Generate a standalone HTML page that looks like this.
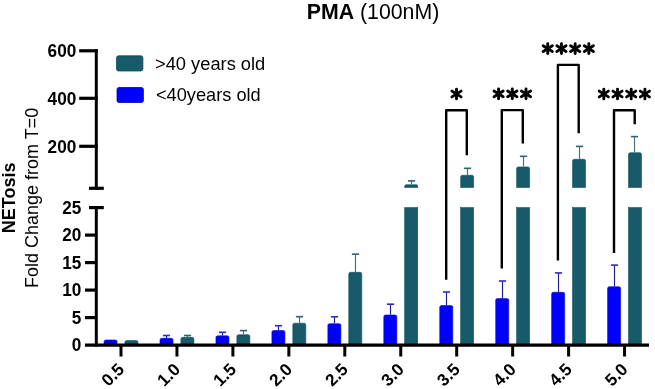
<!DOCTYPE html>
<html><head><meta charset="utf-8"><style>
html,body{margin:0;padding:0;background:#fff;}
body{width:655px;height:389px;overflow:hidden;}
svg{display:block;will-change:transform;}
text{font-family:"Liberation Sans",sans-serif;}
</style></head><body>
<svg width="655" height="389" viewBox="0 0 655 389">
<rect width="655" height="389" fill="#fff"/>
<text x="373" y="19" text-anchor="middle" font-size="21.3"><tspan font-weight="bold">PMA</tspan> (100nM)</text>
<text transform="translate(15.3,197.8) rotate(-90)" text-anchor="middle" font-size="18" font-weight="bold">NETosis</text>
<text transform="translate(38.1,197.9) rotate(-90)" text-anchor="middle" font-size="18">Fold Change from T=0</text>
<rect x="116.5" y="55.8" width="26.4" height="15.2" rx="2" fill="#175a69" stroke="#124e5c" stroke-width="0.8"/>
<rect x="117" y="87.5" width="26.4" height="15" rx="2" fill="#0000fd" stroke="#0000b0" stroke-width="0.8"/>
<text x="155" y="69.8" font-size="18.3">&gt;40 years old</text>
<text x="156" y="101.2" font-size="18.2">&lt;40years old</text>
<path d="M104.05,343.90 L104.05,341.70 Q104.05,340.00 105.75,340.00 L115.35,340.00 Q117.05,340.00 117.05,341.70 L117.05,343.90 Z" fill="#0000fd" stroke="#0000c8" stroke-width="0.6"/><path d="M124.95,343.90 L124.95,342.20 Q124.95,340.50 126.65,340.50 L136.25,340.50 Q137.95,340.50 137.95,342.20 L137.95,343.90 Z" fill="#175a69" stroke="#124e5c" stroke-width="0.6"/><path d="M160.00,343.90 L160.00,340.00 Q160.00,338.30 161.70,338.30 L171.30,338.30 Q173.00,338.30 173.00,340.00 L173.00,343.90 Z" fill="#0000fd" stroke="#0000c8" stroke-width="0.6"/><line x1="166.50" y1="338.00" x2="166.50" y2="335.50" stroke="#1c1c8c" stroke-width="1.15"/><line x1="162.90" y1="335.50" x2="170.10" y2="335.50" stroke="#2a2ad8" stroke-width="1.6"/><path d="M180.90,343.90 L180.90,339.00 Q180.90,337.30 182.60,337.30 L192.20,337.30 Q193.90,337.30 193.90,339.00 L193.90,343.90 Z" fill="#175a69" stroke="#124e5c" stroke-width="0.6"/><line x1="187.50" y1="337.00" x2="187.50" y2="335.50" stroke="#3d7276" stroke-width="1.15"/><line x1="183.90" y1="335.50" x2="191.10" y2="335.50" stroke="#2c666c" stroke-width="1.6"/><path d="M215.95,343.90 L215.95,337.50 Q215.95,335.80 217.65,335.80 L227.25,335.80 Q228.95,335.80 228.95,337.50 L228.95,343.90 Z" fill="#0000fd" stroke="#0000c8" stroke-width="0.6"/><line x1="222.50" y1="335.50" x2="222.50" y2="332.30" stroke="#1c1c8c" stroke-width="1.15"/><line x1="218.90" y1="332.30" x2="226.10" y2="332.30" stroke="#2a2ad8" stroke-width="1.6"/><path d="M236.85,343.90 L236.85,336.40 Q236.85,334.70 238.55,334.70 L248.15,334.70 Q249.85,334.70 249.85,336.40 L249.85,343.90 Z" fill="#175a69" stroke="#124e5c" stroke-width="0.6"/><line x1="243.50" y1="334.40" x2="243.50" y2="330.60" stroke="#3d7276" stroke-width="1.15"/><line x1="239.90" y1="330.60" x2="247.10" y2="330.60" stroke="#2c666c" stroke-width="1.6"/><path d="M271.90,343.90 L271.90,332.20 Q271.90,330.50 273.60,330.50 L283.20,330.50 Q284.90,330.50 284.90,332.20 L284.90,343.90 Z" fill="#0000fd" stroke="#0000c8" stroke-width="0.6"/><line x1="278.50" y1="330.20" x2="278.50" y2="325.70" stroke="#1c1c8c" stroke-width="1.15"/><line x1="274.90" y1="325.70" x2="282.10" y2="325.70" stroke="#2a2ad8" stroke-width="1.6"/><path d="M292.80,343.90 L292.80,324.90 Q292.80,323.20 294.50,323.20 L304.10,323.20 Q305.80,323.20 305.80,324.90 L305.80,343.90 Z" fill="#175a69" stroke="#124e5c" stroke-width="0.6"/><line x1="299.50" y1="322.90" x2="299.50" y2="316.70" stroke="#3d7276" stroke-width="1.15"/><line x1="295.90" y1="316.70" x2="303.10" y2="316.70" stroke="#2c666c" stroke-width="1.6"/><path d="M327.85,343.90 L327.85,325.40 Q327.85,323.70 329.55,323.70 L339.15,323.70 Q340.85,323.70 340.85,325.40 L340.85,343.90 Z" fill="#0000fd" stroke="#0000c8" stroke-width="0.6"/><line x1="334.50" y1="323.40" x2="334.50" y2="316.80" stroke="#1c1c8c" stroke-width="1.15"/><line x1="330.90" y1="316.80" x2="338.10" y2="316.80" stroke="#2a2ad8" stroke-width="1.6"/><path d="M348.75,343.90 L348.75,274.00 Q348.75,272.30 350.45,272.30 L360.05,272.30 Q361.75,272.30 361.75,274.00 L361.75,343.90 Z" fill="#175a69" stroke="#124e5c" stroke-width="0.6"/><line x1="355.50" y1="272.00" x2="355.50" y2="254.20" stroke="#3d7276" stroke-width="1.15"/><line x1="351.90" y1="254.20" x2="359.10" y2="254.20" stroke="#2c666c" stroke-width="1.6"/><path d="M383.80,343.90 L383.80,316.70 Q383.80,315.00 385.50,315.00 L395.10,315.00 Q396.80,315.00 396.80,316.70 L396.80,343.90 Z" fill="#0000fd" stroke="#0000c8" stroke-width="0.6"/><line x1="390.50" y1="314.70" x2="390.50" y2="304.20" stroke="#1c1c8c" stroke-width="1.15"/><line x1="386.90" y1="304.20" x2="394.10" y2="304.20" stroke="#2a2ad8" stroke-width="1.6"/><rect x="404.70" y="207.60" width="13.00" height="136.30" fill="#175a69" stroke="#124e5c" stroke-width="0.6"/><path d="M404.70,187.50 L404.70,186.10 Q404.70,184.70 406.10,184.70 L416.30,184.70 Q417.70,184.70 417.70,186.10 L417.70,187.50 Z" fill="#175a69" stroke="#124e5c" stroke-width="0.6"/><line x1="411.50" y1="184.40" x2="411.50" y2="180.90" stroke="#3d7276" stroke-width="1.15"/><line x1="407.90" y1="180.90" x2="415.10" y2="180.90" stroke="#2c666c" stroke-width="1.6"/><path d="M439.75,343.90 L439.75,307.30 Q439.75,305.60 441.45,305.60 L451.05,305.60 Q452.75,305.60 452.75,307.30 L452.75,343.90 Z" fill="#0000fd" stroke="#0000c8" stroke-width="0.6"/><line x1="446.50" y1="305.30" x2="446.50" y2="292.00" stroke="#1c1c8c" stroke-width="1.15"/><line x1="442.90" y1="292.00" x2="450.10" y2="292.00" stroke="#2a2ad8" stroke-width="1.6"/><rect x="460.65" y="207.60" width="13.00" height="136.30" fill="#175a69" stroke="#124e5c" stroke-width="0.6"/><path d="M460.65,187.50 L460.65,177.00 Q460.65,175.30 462.35,175.30 L471.95,175.30 Q473.65,175.30 473.65,177.00 L473.65,187.50 Z" fill="#175a69" stroke="#124e5c" stroke-width="0.6"/><line x1="467.50" y1="175.00" x2="467.50" y2="168.30" stroke="#3d7276" stroke-width="1.15"/><line x1="463.90" y1="168.30" x2="471.10" y2="168.30" stroke="#2c666c" stroke-width="1.6"/><path d="M495.70,343.90 L495.70,300.30 Q495.70,298.60 497.40,298.60 L507.00,298.60 Q508.70,298.60 508.70,300.30 L508.70,343.90 Z" fill="#0000fd" stroke="#0000c8" stroke-width="0.6"/><line x1="502.50" y1="298.30" x2="502.50" y2="281.00" stroke="#1c1c8c" stroke-width="1.15"/><line x1="498.90" y1="281.00" x2="506.10" y2="281.00" stroke="#2a2ad8" stroke-width="1.6"/><rect x="516.60" y="207.60" width="13.00" height="136.30" fill="#175a69" stroke="#124e5c" stroke-width="0.6"/><path d="M516.60,187.50 L516.60,168.60 Q516.60,166.90 518.30,166.90 L527.90,166.90 Q529.60,166.90 529.60,168.60 L529.60,187.50 Z" fill="#175a69" stroke="#124e5c" stroke-width="0.6"/><line x1="523.50" y1="166.60" x2="523.50" y2="156.30" stroke="#3d7276" stroke-width="1.15"/><line x1="519.90" y1="156.30" x2="527.10" y2="156.30" stroke="#2c666c" stroke-width="1.6"/><path d="M551.65,343.90 L551.65,294.00 Q551.65,292.30 553.35,292.30 L562.95,292.30 Q564.65,292.30 564.65,294.00 L564.65,343.90 Z" fill="#0000fd" stroke="#0000c8" stroke-width="0.6"/><line x1="558.50" y1="292.00" x2="558.50" y2="272.90" stroke="#1c1c8c" stroke-width="1.15"/><line x1="554.90" y1="272.90" x2="562.10" y2="272.90" stroke="#2a2ad8" stroke-width="1.6"/><rect x="572.55" y="207.60" width="13.00" height="136.30" fill="#175a69" stroke="#124e5c" stroke-width="0.6"/><path d="M572.55,187.50 L572.55,161.00 Q572.55,159.30 574.25,159.30 L583.85,159.30 Q585.55,159.30 585.55,161.00 L585.55,187.50 Z" fill="#175a69" stroke="#124e5c" stroke-width="0.6"/><line x1="579.50" y1="159.00" x2="579.50" y2="146.40" stroke="#3d7276" stroke-width="1.15"/><line x1="575.90" y1="146.40" x2="583.10" y2="146.40" stroke="#2c666c" stroke-width="1.6"/><path d="M607.60,343.90 L607.60,288.40 Q607.60,286.70 609.30,286.70 L618.90,286.70 Q620.60,286.70 620.60,288.40 L620.60,343.90 Z" fill="#0000fd" stroke="#0000c8" stroke-width="0.6"/><line x1="614.50" y1="286.40" x2="614.50" y2="265.10" stroke="#1c1c8c" stroke-width="1.15"/><line x1="610.90" y1="265.10" x2="618.10" y2="265.10" stroke="#2a2ad8" stroke-width="1.6"/><rect x="628.50" y="207.60" width="13.00" height="136.30" fill="#175a69" stroke="#124e5c" stroke-width="0.6"/><path d="M628.50,187.50 L628.50,154.40 Q628.50,152.70 630.20,152.70 L639.80,152.70 Q641.50,152.70 641.50,154.40 L641.50,187.50 Z" fill="#175a69" stroke="#124e5c" stroke-width="0.6"/><line x1="634.50" y1="152.40" x2="634.50" y2="136.60" stroke="#3d7276" stroke-width="1.15"/><line x1="630.90" y1="136.60" x2="638.10" y2="136.60" stroke="#2c666c" stroke-width="1.6"/>
<line x1="96.3" y1="49.2" x2="96.3" y2="189.60000000000002" stroke="#000" stroke-width="3"/><line x1="79.2" y1="50.8" x2="97.8" y2="50.8" stroke="#000" stroke-width="3.2"/><line x1="79.2" y1="98.3" x2="97.8" y2="98.3" stroke="#000" stroke-width="3.2"/><line x1="79.2" y1="146.3" x2="97.8" y2="146.3" stroke="#000" stroke-width="3.2"/><line x1="89" y1="188.3" x2="103.8" y2="188.3" stroke="#000" stroke-width="3.2"/><line x1="96.3" y1="206.1" x2="96.3" y2="346.70000000000005" stroke="#000" stroke-width="3"/><line x1="89" y1="207.6" x2="103.8" y2="207.6" stroke="#000" stroke-width="3.2"/><line x1="85" y1="235.10" x2="96.3" y2="235.10" stroke="#000" stroke-width="3.2"/><line x1="85" y1="262.60" x2="96.3" y2="262.60" stroke="#000" stroke-width="3.2"/><line x1="85" y1="290.10" x2="96.3" y2="290.10" stroke="#000" stroke-width="3.2"/><line x1="85" y1="317.60" x2="96.3" y2="317.60" stroke="#000" stroke-width="3.2"/><line x1="85" y1="345.1" x2="649" y2="345.1" stroke="#000" stroke-width="3.3"/><line x1="121.00" y1="345.1" x2="121.00" y2="356.5" stroke="#000" stroke-width="3"/><line x1="176.95" y1="345.1" x2="176.95" y2="356.5" stroke="#000" stroke-width="3"/><line x1="232.90" y1="345.1" x2="232.90" y2="356.5" stroke="#000" stroke-width="3"/><line x1="288.85" y1="345.1" x2="288.85" y2="356.5" stroke="#000" stroke-width="3"/><line x1="344.80" y1="345.1" x2="344.80" y2="356.5" stroke="#000" stroke-width="3"/><line x1="400.75" y1="345.1" x2="400.75" y2="356.5" stroke="#000" stroke-width="3"/><line x1="456.70" y1="345.1" x2="456.70" y2="356.5" stroke="#000" stroke-width="3"/><line x1="512.65" y1="345.1" x2="512.65" y2="356.5" stroke="#000" stroke-width="3"/><line x1="568.60" y1="345.1" x2="568.60" y2="356.5" stroke="#000" stroke-width="3"/><line x1="624.55" y1="345.1" x2="624.55" y2="356.5" stroke="#000" stroke-width="3"/>
<g font-size="17.2" font-weight="bold" fill="#000"><text transform="translate(76.3,57.00) scale(1,1.06)" text-anchor="end">600</text><text transform="translate(76.3,104.50) scale(1,1.06)" text-anchor="end">400</text><text transform="translate(76.3,152.50) scale(1,1.06)" text-anchor="end">200</text><text transform="translate(81.3,213.80) scale(1,1.06)" text-anchor="end">25</text><text transform="translate(81.3,241.30) scale(1,1.06)" text-anchor="end">20</text><text transform="translate(81.3,268.80) scale(1,1.06)" text-anchor="end">15</text><text transform="translate(81.3,296.30) scale(1,1.06)" text-anchor="end">10</text><text transform="translate(81.3,323.80) scale(1,1.06)" text-anchor="end">5</text><text transform="translate(81.3,351.30) scale(1,1.06)" text-anchor="end">0</text><text transform="translate(125.30,370.4) rotate(-45)" text-anchor="end">0.5</text><text transform="translate(181.25,370.4) rotate(-45)" text-anchor="end">1.0</text><text transform="translate(237.20,370.4) rotate(-45)" text-anchor="end">1.5</text><text transform="translate(293.15,370.4) rotate(-45)" text-anchor="end">2.0</text><text transform="translate(349.10,370.4) rotate(-45)" text-anchor="end">2.5</text><text transform="translate(405.05,370.4) rotate(-45)" text-anchor="end">3.0</text><text transform="translate(461.00,370.4) rotate(-45)" text-anchor="end">3.5</text><text transform="translate(516.95,370.4) rotate(-45)" text-anchor="end">4.0</text><text transform="translate(572.90,370.4) rotate(-45)" text-anchor="end">4.5</text><text transform="translate(628.85,370.4) rotate(-45)" text-anchor="end">5.0</text></g>
<path d="M446.2,279.8 L446.2,110.2 L466.8,110.2 L466.8,155.3" fill="none" stroke="#000" stroke-width="2.4" stroke-linejoin="round"/><g stroke="#000" stroke-width="2.9" stroke-linecap="round"><line x1="456.50" y1="89.10" x2="456.50" y2="98.90"/><line x1="451.92" y1="91.14" x2="461.08" y2="96.86"/><line x1="451.92" y1="96.86" x2="461.08" y2="91.14"/></g><path d="M501.8,268.6 L501.8,110.1 L522.8,110.1 L522.8,143.5" fill="none" stroke="#000" stroke-width="2.4" stroke-linejoin="round"/><g stroke="#000" stroke-width="2.9" stroke-linecap="round"><line x1="498.60" y1="89.00" x2="498.60" y2="98.80"/><line x1="494.02" y1="91.04" x2="503.18" y2="96.76"/><line x1="494.02" y1="96.76" x2="503.18" y2="91.04"/><line x1="512.30" y1="89.00" x2="512.30" y2="98.80"/><line x1="507.72" y1="91.04" x2="516.88" y2="96.76"/><line x1="507.72" y1="96.76" x2="516.88" y2="91.04"/><line x1="526.00" y1="89.00" x2="526.00" y2="98.80"/><line x1="521.42" y1="91.04" x2="530.58" y2="96.76"/><line x1="521.42" y1="96.76" x2="530.58" y2="91.04"/></g><path d="M557.9,260.5 L557.9,64.9 L578.7,64.9 L578.7,133.3" fill="none" stroke="#000" stroke-width="2.4" stroke-linejoin="round"/><g stroke="#000" stroke-width="2.9" stroke-linecap="round"><line x1="547.75" y1="43.80" x2="547.75" y2="53.60"/><line x1="543.17" y1="45.84" x2="552.33" y2="51.56"/><line x1="543.17" y1="51.56" x2="552.33" y2="45.84"/><line x1="561.45" y1="43.80" x2="561.45" y2="53.60"/><line x1="556.87" y1="45.84" x2="566.03" y2="51.56"/><line x1="556.87" y1="51.56" x2="566.03" y2="45.84"/><line x1="575.15" y1="43.80" x2="575.15" y2="53.60"/><line x1="570.57" y1="45.84" x2="579.73" y2="51.56"/><line x1="570.57" y1="51.56" x2="579.73" y2="45.84"/><line x1="588.85" y1="43.80" x2="588.85" y2="53.60"/><line x1="584.27" y1="45.84" x2="593.43" y2="51.56"/><line x1="584.27" y1="51.56" x2="593.43" y2="45.84"/></g><path d="M614.0,252.9 L614.0,110.2 L634.7,110.2 L634.7,124.3" fill="none" stroke="#000" stroke-width="2.4" stroke-linejoin="round"/><g stroke="#000" stroke-width="2.9" stroke-linecap="round"><line x1="603.80" y1="89.10" x2="603.80" y2="98.90"/><line x1="599.22" y1="91.14" x2="608.38" y2="96.86"/><line x1="599.22" y1="96.86" x2="608.38" y2="91.14"/><line x1="617.50" y1="89.10" x2="617.50" y2="98.90"/><line x1="612.92" y1="91.14" x2="622.08" y2="96.86"/><line x1="612.92" y1="96.86" x2="622.08" y2="91.14"/><line x1="631.20" y1="89.10" x2="631.20" y2="98.90"/><line x1="626.62" y1="91.14" x2="635.78" y2="96.86"/><line x1="626.62" y1="96.86" x2="635.78" y2="91.14"/><line x1="644.90" y1="89.10" x2="644.90" y2="98.90"/><line x1="640.32" y1="91.14" x2="649.48" y2="96.86"/><line x1="640.32" y1="96.86" x2="649.48" y2="91.14"/></g>
</svg>
</body></html>
